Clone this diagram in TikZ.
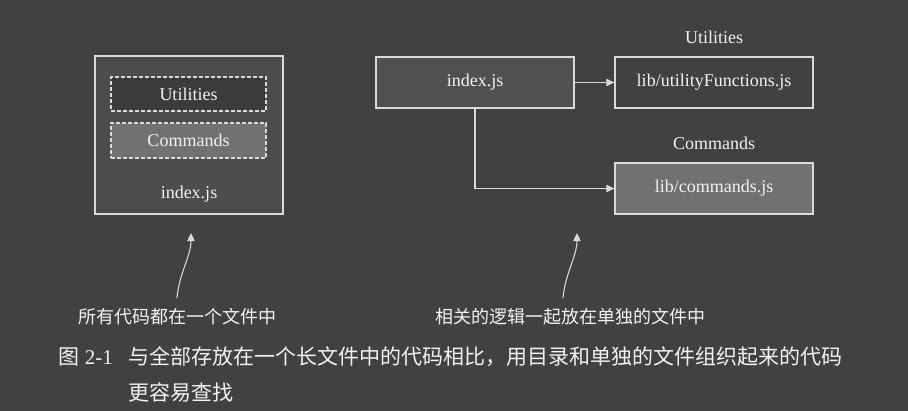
\documentclass[tikz,border=0pt]{standalone}
\usepackage{fontspec}
\setmainfont{Liberation Serif}
\newfontfamily\cjk{Noto Sans CJK SC}
\usetikzlibrary{arrows.meta}

\definecolor{bggray}{HTML}{414141}
\definecolor{boxgray}{HTML}{4C4C4C}
\definecolor{midgray}{HTML}{505050}
\definecolor{lightgray}{HTML}{717171}
\definecolor{darkgray}{HTML}{3B3B3B}
\definecolor{lineclr}{HTML}{DADADA}
\definecolor{textclr}{HTML}{F2F2F2}

\tikzset{
  filebox/.style={draw=lineclr, line width=1pt, minimum width=148.5pt, minimum height=38.25pt, inner sep=0pt},
  partbox/.style={draw=lineclr, line width=0.9pt, dash pattern=on 3pt off 1.5pt, minimum width=116.25pt, inner sep=0pt},
  link/.style={draw=lineclr, line width=0.8pt, -{Triangle[width=5.5pt,length=6pt]}},
}

\begin{document}
\begin{tikzpicture}[x=0.75pt, y=-0.75pt, every node/.style={text=textclr, font=\fontsize{13.5}{16}\selectfont}]
			% Background
			\fill[bggray] (0,0) rectangle (908,411);
			\useasboundingbox (0,0) rectangle (908,411);

			% Draw the single file on the left
			\node[draw=lineclr, line width=1pt, fill=boxgray, minimum width=141pt, minimum height=118.5pt] (single) at (189,135) {};
			\node[partbox, fill=darkgray, minimum height=25.5pt] (utilpart) at (188.5,94) {Utilities};
			\node[partbox, fill=lightgray, minimum height=26.25pt] (cmdpart) at (188.5,140.5) {Commands};
			\node (singlename) at (189,194) {index.js};

			% Draw the split files on the right
			\node[filebox, fill=midgray] (index) at (475,82.5) {index.js};
			\node[filebox, fill=bggray] (utilfile) at (714,82.5) {lib/utilityFunctions.js};
			\node[filebox, fill=lightgray] (cmdfile) at (714,188.5) {lib/commands.js};

			\node (utiltitle) at (714,37) {Utilities};
			\node (cmdtitle) at (714,143) {Commands};

			% Draw the links between the files
			\draw[link] (index.east) -- (utilfile.west);
			\draw[link] (index.south) |- (cmdfile.west);

			% Draw the notes below
			\node (notesingle) at (177.5,317) {\cjk 所有代码都在一个文件中};
			\node (notesplit) at (570,317) {\cjk 相关的逻辑一起放在单独的文件中};

			\coordinate (tailsingle) at (177,298);
			\coordinate (tipsingle) at (191,233);
			\coordinate (tailsplit) at (563,298);
			\coordinate (tipsplit) at (577,233);

			\draw[link] (tailsingle) .. controls (179,274) and (191,256) .. (tipsingle);
			\draw[link] (tailsplit) .. controls (565,274) and (577,256) .. (tipsplit);

			% Draw the caption
			\node[anchor=west, font=\fontsize{15.75}{18}\selectfont] (capnum) at (54,357) {{\cjk 图} 2-1};
			\node[anchor=west, font=\fontsize{15.75}{18}\selectfont\cjk] (capline) at (124,357) {与全部存放在一个长文件中的代码相比，用目录和单独的文件组织起来的代码};
			\node[anchor=west, font=\fontsize{15.75}{18}\selectfont\cjk] (capmore) at (124,392) {更容易查找};

		\end{tikzpicture}
\end{document}
